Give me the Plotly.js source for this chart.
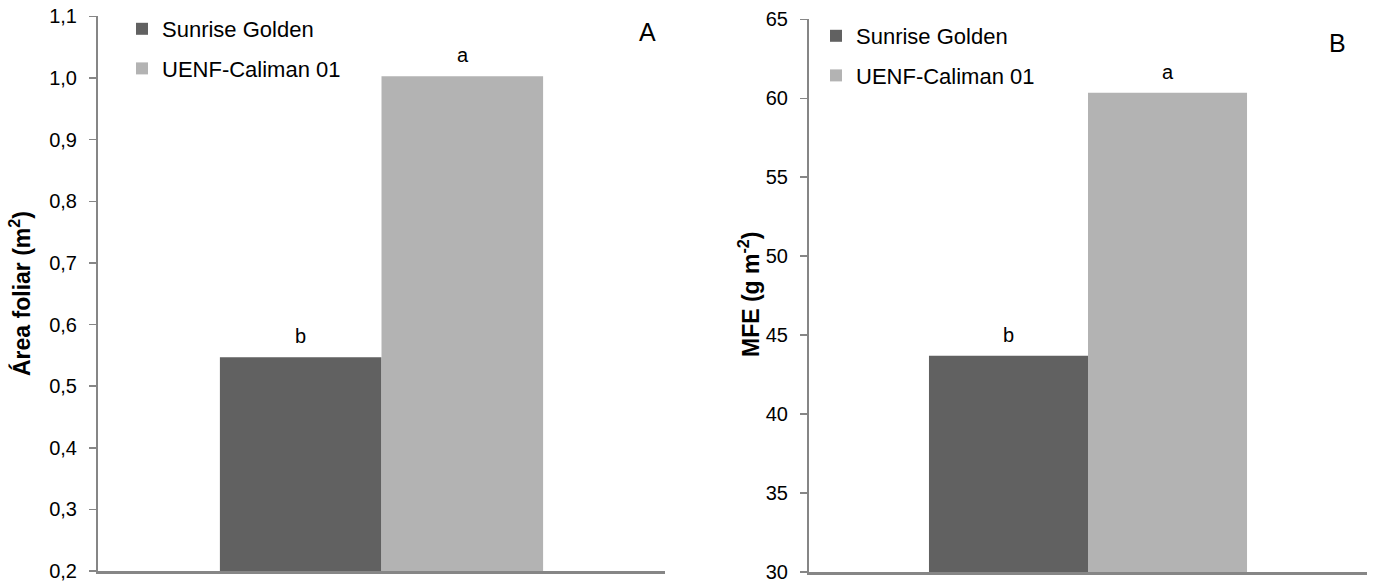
<!DOCTYPE html>
<html>
<head>
<meta charset="utf-8">
<script src="https://cdn.plot.ly/plotly-3.0.1.min.js"></script>
<style>html,body{margin:0;padding:0;background:#fff;}#chart{width:1373px;height:585px;}</style>
</head>
<body>
<div id="chart"></div>
<script>
// ---- data ----
const categories = ['Cultivar'];
const seriesNames = ['Sunrise Golden', 'UENF-Caliman 01'];
const areaFoliar = [0.547, 1.003];      // panel A (m²)
const mfe = [43.7, 60.35];              // panel B (g m-2)
const lettersA = ['b', 'a'];
const lettersB = ['b', 'a'];
const colors = ['#616161', '#b3b3b3'];

const FONT = 'Liberation Sans, Arial, sans-serif';
const AXC = '#868686';

const traces = [];
seriesNames.forEach((name, i) => {
  traces.push({
    type: 'bar', name: name, x: categories, y: [areaFoliar[i]],
    marker: {color: colors[i]}, xaxis: 'x', yaxis: 'y',
    legend: 'legend', legendgroup: 'a' + i, hoverinfo: 'y'
  });
});
seriesNames.forEach((name, i) => {
  traces.push({
    type: 'bar', name: name, x: categories, y: [mfe[i]],
    marker: {color: colors[i]}, xaxis: 'x2', yaxis: 'y2',
    legend: 'legend2', legendgroup: 'b' + i, hoverinfo: 'y'
  });
});

const yCommon = {
  showline: true, linecolor: AXC, linewidth: 2,
  ticks: 'outside', ticklen: 7, tickcolor: AXC, tickwidth: 1.5,
  showgrid: false, zeroline: false, ticklabelstandoff: 8,
  tickfont: {family: FONT, size: 20, color: '#000'}, automargin: false
};
const xCommon = {
  showline: true, linecolor: AXC, linewidth: 2.5, showgrid: false,
  zeroline: false, showticklabels: false, ticks: '', automargin: false
};
const legCommon = {
  font: {family: FONT, size: 22, color: '#000'}, bgcolor: 'rgba(0,0,0,0)',
  traceorder: 'grouped', tracegroupgap: 8, xanchor: 'left', yanchor: 'top',
  itemclick: false
};

// significance letters placed above each bar (group offsets: bar half-width in px)
const letterAnn = [];
const shiftsA = [-81, 81], shiftsB = [-80, 80];
lettersA.forEach((t, i) => letterAnn.push({
  text: t, xref: 'x', yref: 'y', x: categories[0], y: areaFoliar[i],
  xshift: shiftsA[i], yshift: 8, xanchor: 'center', yanchor: 'bottom', showarrow: false,
  font: {family: FONT, size: 20, color: '#000'}
}));
lettersB.forEach((t, i) => letterAnn.push({
  text: t, xref: 'x2', yref: 'y2', x: categories[0], y: mfe[i],
  xshift: shiftsB[i], yshift: 8, xanchor: 'center', yanchor: 'bottom', showarrow: false,
  font: {family: FONT, size: 20, color: '#000'}
}));

const layout = {
  width: 1373, height: 585,
  margin: {l: 0, r: 0, t: 0, b: 0},
  paper_bgcolor: '#fff', plot_bgcolor: '#fff',
  separators: ',.',
  barmode: 'group', bargap: 0.43, bargroupgap: 0,
  font: {family: FONT, color: '#000'},
  xaxis: Object.assign({}, xCommon, {domain: [98/1373, 665/1373], anchor: 'y'}),
  xaxis2: Object.assign({}, xCommon, {domain: [809/1373, 1367/1373], anchor: 'y2'}),
  yaxis: Object.assign({}, yCommon, {domain: [1 - 571/585, 1 - 16.4/585], range: [0.2, 1.1],
    tickmode: 'linear', tick0: 0.2, dtick: 0.1, tickformat: '.1f', anchor: 'x'}),
  yaxis2: Object.assign({}, yCommon, {domain: [1 - 572/585, 1 - 19.3/585], range: [30, 65],
    tickmode: 'linear', tick0: 30, dtick: 5, anchor: 'x2'}),
  legend: Object.assign({}, legCommon, {x: 122/1373, y: 1 - 8/585}),
  legend2: Object.assign({}, legCommon, {x: 816/1373, y: 1 - 15/585}),
  annotations: [
    {text: 'A', xref: 'paper', yref: 'paper', x: 647/1373, y: 1 - 32/585,
     xanchor: 'center', yanchor: 'middle',
     showarrow: false, font: {family: FONT, size: 25, color: '#000'}},
    {text: 'B', xref: 'paper', yref: 'paper', x: 1337/1373, y: 1 - 43/585,
     xanchor: 'center', yanchor: 'middle',
     showarrow: false, font: {family: FONT, size: 25, color: '#000'}},
    {text: '<b>Área foliar (m<sup>2</sup>)</b>', xref: 'paper', yref: 'paper', x: 20/1373, y: 1 - 294/585,
     xanchor: 'center', yanchor: 'middle',
     textangle: -90, showarrow: false, font: {family: FONT, size: 23, color: '#000'}},
    {text: '<b>MFE (g m<sup>-2</sup>)</b>', xref: 'paper', yref: 'paper', x: 749/1373, y: 1 - 294/585,
     xanchor: 'center', yanchor: 'middle',
     textangle: -90, showarrow: false, font: {family: FONT, size: 23, color: '#000'}}
  ].concat(letterAnn)
};

Plotly.newPlot('chart', traces, layout, {displayModeBar: false, staticPlot: true});
</script>
</body>
</html>
